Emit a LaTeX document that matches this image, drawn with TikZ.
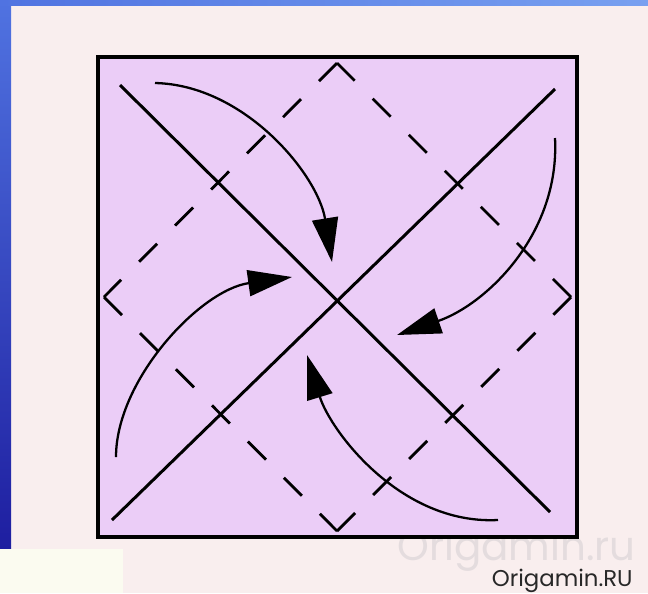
\documentclass[tikz,border=0pt]{standalone}
\usepackage{fontspec}
\newfontfamily\logofont{Poppins}
\usetikzlibrary{arrows.meta}

\definecolor{paper}{RGB}{235,205,247}
\definecolor{backdrop}{RGB}{249,238,238}
\definecolor{notecard}{RGB}{251,251,240}
\definecolor{slidetop}{RGB}{80,115,225}
\definecolor{slidelow}{RGB}{30,30,160}
\definecolor{slidelight}{RGB}{120,160,240}
\definecolor{markgray}{RGB}{228,220,222}
\definecolor{logotext}{RGB}{40,40,40}

\begin{document}
\begin{tikzpicture}[x=0.02cm, y=-0.02cm,
    crease/.style={line width=1.7pt},
    valley/.style={line width=1.6pt, dash pattern=on 0.51cm off 0.51cm},
    fold/.style={line width=1.3pt, -{Triangle[length=0.88cm, width=0.52cm]}}]
  \useasboundingbox (0,0) rectangle (648,593);

  % slide background
  \fill[backdrop] (0,0) rectangle (648,593);
  \shade[top color=slidetop, bottom color=slidelow] (0,0) rectangle (11,549);
  \shade[left color=slidetop, right color=slidelight] (0,0) rectangle (648,5);
  \fill[notecard] (0,549) rectangle (123,593);

  \node[anchor=base west, inner sep=0pt, text=markgray, font=\logofont\fontsize{23}{23}\selectfont] (watermark) at (397,560) {Origamin.ru};
  \node[anchor=base east, inner sep=0pt, text=logotext, font=\logofont\fontsize{13}{13}\selectfont] (logo) at (633,586) {Origamin.RU};

  % the sheet
  \draw[line width=1.9pt, fill=paper] (98,57) rectangle (577,537);

  % valley folds to the edge midpoints
  \coordinate (n) at (337,63);
  \coordinate (w) at (104,297);
  \coordinate (s) at (337,531);
  \coordinate (e) at (571,297);
  \draw[valley] (n) -- (w);
  \draw[valley] (w) -- (s);
  \draw[valley] (s) -- (e);
  \draw[valley] (e) -- (n);

  % diagonals
  \coordinate (nw) at (120,85);
  \coordinate (se) at (550,512);
  \coordinate (ne) at (555,89);
  \coordinate (sw) at (112,520);
  \draw[crease] (nw) -- (se);
  \draw[crease] (ne) -- (sw);

  % corners folded to the centre
  \coordinate (from1) at (155,83);  \coordinate (to1) at (332,262);
  \coordinate (from2) at (555,138); \coordinate (to2) at (397,335);
  \coordinate (from3) at (498,520); \coordinate (to3) at (307,355);
  \coordinate (from4) at (116,457); \coordinate (to4) at (292,277);
  \draw[fold] (from1) .. controls (245,85) and (318,175) .. (to1);
  \draw[fold] (from2) .. controls (560,235) and (485,305) .. (to2);
  \draw[fold] (from3) .. controls (400,525) and (330,430) .. (to3);
  \draw[fold] (from4) .. controls (116,380) and (200,290) .. (to4);
\end{tikzpicture}
\end{document}
